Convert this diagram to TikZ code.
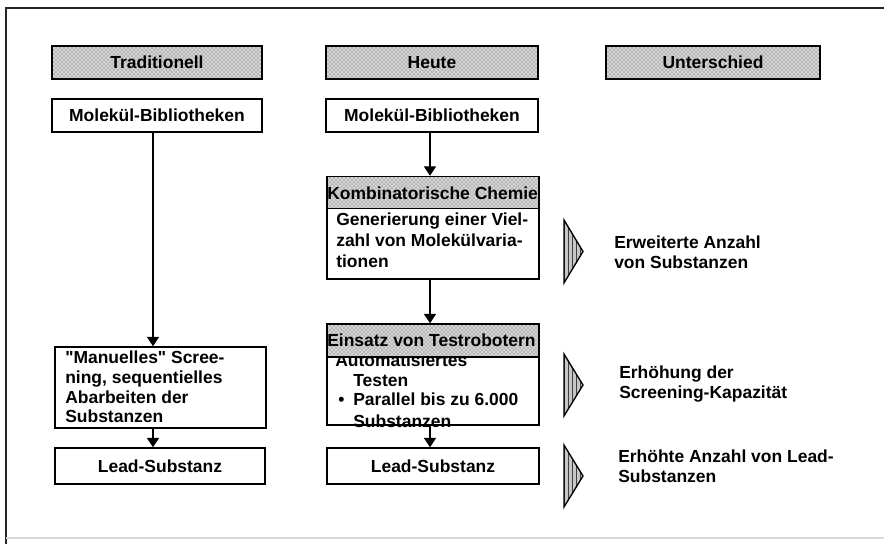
\documentclass[tikz,border=0pt]{standalone}
\usepackage{fontspec}
\newfontfamily\lsans{Liberation Sans}
\usetikzlibrary{patterns,arrows.meta}
\begin{document}
\begin{tikzpicture}[x=0.75pt,y=-0.75pt,
  wh/.style 2 args={minimum width=#1*0.75pt,minimum height=#2*0.75pt},
  txt/.style={font=\lsans\fontsize{13.1}{15}\selectfont\bfseries,inner sep=0pt,text=black},
  box/.style={draw=black,line width=1.1pt,fill=white,inner sep=0pt,txt},
  hdr/.style={draw=black,line width=1.1pt,inner sep=0pt,txt,preaction={fill=gray!32},pattern=crosshatch dots,pattern color=black!70},
  arr/.style={line width=1.1pt,-{Triangle[width=9pt,length=7pt]}},
  chev/.style={draw=black,line width=1pt,line join=miter,preaction={fill=gray!45},pattern=vertical lines,pattern color=black!75},
  frame/.style={line width=1.2pt,draw=black!85}]
\useasboundingbox (0,0) rectangle (888,544);
% outer frame
\draw[frame] (884,8) -- (6,8) -- (6,544);
\draw[line width=0.8pt,draw=black!15] (6,538) -- (884,538);

% column headers
\node[hdr,wh={210}{33}] (h1) at (157,62.5) {Traditionell};
\node[hdr,wh={212}{33}] (h2) at (432,62.5) {Heute};
\node[hdr,wh={214}{33}] (h3) at (713,62.5) {Unterschied};

% Molekuel-Bibliotheken
\node[box,wh={210}{33}] (m1) at (157,115.5) {Molekül-Bibliotheken};
\node[box,wh={212}{33}] (m2) at (432,115.5) {Molekül-Bibliotheken};

% Kombinatorische Chemie
\node[box,wh={212}{71}] (kb) at (433,243.5) {};
\node[txt,anchor=base west] (k1) at (336,225) {Generierung einer Viel-};
\node[txt,anchor=base west] (k2) at (336,246) {zahl von Molekülvaria-};
\node[txt,anchor=base west] (k3) at (336,267) {tionen};
\node[hdr,wh={212}{32}] (kh) at (433,192.5) {};
\begin{scope}
  \clip (kh.south west) rectangle (kh.north east);
  \node[txt,anchor=base west] (kht) at (327,199) {Kombinatorische Chemie};
\end{scope}

% Einsatz von Testrobotern
\node[box,wh={212}{68}] (eb) at (433,391) {};
\node[txt,anchor=base west] (e1) at (335,366) {Automatisiertes};
\node[txt,anchor=base west] (e2) at (353,386) {Testen};
\node[txt,anchor=base west] (e3) at (338,405) {•};
\node[txt,anchor=base west] (e4) at (353,405) {Parallel bis zu 6.000};
\node[txt,anchor=base west] (e5) at (353,427) {Substanzen};
\node[hdr,wh={212}{33}] (eh) at (433,340.5) {};
\begin{scope}
  \clip (eh.south west) rectangle (eh.north east);
  \node[txt,anchor=base west] (eht) at (327,346) {Einsatz von Testrobotern};
\end{scope}

% Manuelles Screening
\node[box,wh={211}{81}] (man) at (160.5,387.5) {};
\node[txt,anchor=base west] (t1) at (65,363) {"Manuelles" Scree-};
\node[txt,anchor=base west] (t2) at (65,383) {ning, sequentielles};
\node[txt,anchor=base west] (t3) at (65,403) {Abarbeiten der};
\node[txt,anchor=base west] (t4) at (65,422) {Substanzen};

% Lead-Substanz
\node[box,wh={210}{36}] (l1) at (160,466) {Lead-Substanz};
\node[box,wh={212}{36}] (l2) at (433,466) {Lead-Substanz};

% connectors
\coordinate (lx) at (153,0);
\coordinate (mx) at (430,0);
\draw[arr] (lx |- m1.south) -- (lx |- man.north);
\draw[arr] (lx |- man.south) -- (lx |- l1.north);
\draw[arr] (mx |- m2.south) -- (mx |- kh.north);
\draw[arr] (mx |- kb.south) -- (mx |- eh.north);
\draw[arr] (mx |- eb.south) -- (mx |- l2.north);

% chevrons
\draw[chev] (564,220) -- (583,251.5) -- (564,283) -- cycle;
\draw[chev] (564,354) -- (583,385) -- (564,416) -- cycle;
\draw[chev] (564,445) -- (583,476) -- (564,507) -- cycle;

% differences
\node[txt,anchor=base west] (r1a) at (614,248) {Erweiterte Anzahl};
\node[txt,anchor=base west] (r1b) at (614,268) {von Substanzen};
\node[txt,anchor=base west] (r2a) at (619,378) {Erhöhung der};
\node[txt,anchor=base west] (r2b) at (619,398) {Screening-Kapazität};
\node[txt,anchor=base west] (r3a) at (618,462) {Erhöhte Anzahl von Lead-};
\node[txt,anchor=base west] (r3b) at (618,482) {Substanzen};
\end{tikzpicture}
\end{document}
